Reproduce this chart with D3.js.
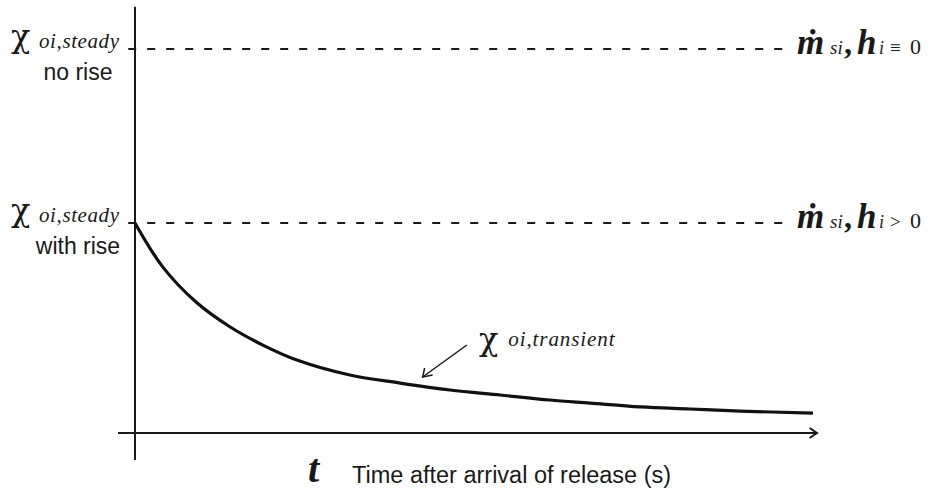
<!DOCTYPE html>
<html>
<head>
<meta charset="utf-8">
<script src="https://cdnjs.cloudflare.com/ajax/libs/d3/7.8.5/d3.min.js"></script>
<style>
  body { margin: 0; background: #fff; }
  svg { display: block; }
</style>
</head>
<body>
<div id="chart"></div>
<script>
// time after arrival (arbitrary units, 0..100) and transient concentration (fraction of no-rise steady)
var timeValues = [0, 4.1, 9.1, 14.0, 18.8, 23.8, 31.6, 39.0, 46.3, 53.7, 61.0, 66.9, 74.3, 81.6, 89.0, 99.7];
var transientValues = [0.547, 0.432, 0.339, 0.276, 0.229, 0.190, 0.151, 0.130, 0.112, 0.099, 0.086, 0.078, 0.068, 0.0625, 0.057, 0.052];

// steady levels: no rise, with rise
var steadyLevels = [1.0, 0.547];
var steadyNotes = ['no rise', 'with rise'];
var steadyRelations = ['\u2261', '>'];

var xLabel = 'Time after arrival of release (s)';

var attrs = {
    svgWidth: 930,
    svgHeight: 492,
    serif: '"Liberation Serif", "Times New Roman", serif',
    greek: '"DejaVu Serif", "Liberation Serif", serif',
    sans: '"Liberation Sans", Arial, sans-serif'
};

var svg = d3.select('#chart')
    .append('svg')
    .attr('width', attrs.svgWidth)
    .attr('height', attrs.svgHeight);

var x = d3.scaleLinear().domain([0, 100]).range([135, 815]);
var y = d3.scaleLinear().domain([0, 1]).range([433, 49]);

var ink = '#1a1a1a';

// axes
svg.append('line')
    .attr('x1', x(0)).attr('x2', x(0))
    .attr('y1', y(-0.07)).attr('y2', y(1.11))
    .attr('stroke', ink).attr('stroke-width', 2);

svg.append('line')
    .attr('x1', x(-2.5)).attr('x2', x(100.3))
    .attr('y1', y(0)).attr('y2', y(0))
    .attr('stroke', ink).attr('stroke-width', 2);

// open arrow head on time axis
svg.append('path')
    .attr('d', d3.line()([[x(99.2), y(0) - 5], [x(100.3), y(0)], [x(99.2), y(0) + 5]]))
    .attr('fill', 'none')
    .attr('stroke', ink).attr('stroke-width', 2);

// steady dashed levels
svg.selectAll('.steady')
    .data(steadyLevels)
    .enter()
    .append('line')
    .attr('class', 'steady')
    .attr('x1', x(-1)).attr('x2', x(96.5))
    .attr('y1', function (d) { return y(d); })
    .attr('y2', function (d) { return y(d); })
    .attr('stroke', ink)
    .attr('stroke-width', 2)
    .attr('stroke-dasharray', '8,11');

// transient curve
var pts = timeValues.map(function (t, i) { return [t, transientValues[i]]; });
var line = d3.line()
    .x(function (d) { return x(d[0]); })
    .y(function (d) { return y(d[1]); })
    .curve(d3.curveCatmullRom.alpha(0.5));

svg.append('path')
    .datum(pts)
    .attr('d', line)
    .attr('fill', 'none')
    .attr('stroke', '#111')
    .attr('stroke-width', 3.2);

// left labels
steadyLevels.forEach(function (lv, i) {
    var yy = y(lv);
    svg.append('text')
        .attr('x', 11).attr('y', yy - 2)
        .attr('font-family', attrs.greek)
        .attr('font-size', 32)
        .attr('fill', ink)
        .text('\u03c7');
    svg.append('text')
        .attr('x', 39).attr('y', yy - 1)
        .attr('font-family', attrs.serif)
        .attr('font-style', 'italic')
        .attr('font-size', 21)
        .attr('letter-spacing', 0.6)
        .attr('fill', ink)
        .text('oi,steady');
    svg.append('text')
        .attr('x', 78).attr('y', yy + 31)
        .attr('text-anchor', 'middle')
        .attr('font-family', attrs.sans)
        .attr('font-size', 23)
        .attr('fill', ink)
        .text(steadyNotes[i]);

    // right labels
    var g = svg.append('text')
        .attr('y', yy + 5)
        .attr('font-family', attrs.serif)
        .attr('fill', ink);
    g.append('tspan').attr('x', 797).attr('font-size', 35).attr('font-style', 'italic').attr('font-weight', 'bold').text('\u1e41');
    g.append('tspan').attr('x', 830).attr('font-size', 19).attr('font-style', 'italic').text('si');
    g.append('tspan').attr('x', 844).attr('font-size', 32).attr('font-weight', 'bold').text(',');
    g.append('tspan').attr('x', 857).attr('font-size', 35).attr('font-style', 'italic').attr('font-weight', 'bold').text('h');
    g.append('tspan').attr('x', 879).attr('font-size', 18).attr('font-style', 'italic').text('i');
    g.append('tspan').attr('x', 890).attr('font-size', 19).text(steadyRelations[i]);
    g.append('tspan').attr('x', 910).attr('font-size', 22).text('0');
});

// transient label with pointer
svg.append('text')
    .attr('x', x(50.6)).attr('y', 350)
    .attr('font-family', attrs.greek)
    .attr('font-size', 32)
    .attr('fill', ink)
    .text('\u03c7');
svg.append('text')
    .attr('x', x(54.9)).attr('y', 346)
    .attr('font-family', attrs.serif)
    .attr('font-style', 'italic')
    .attr('font-size', 21)
    .attr('letter-spacing', 0.9)
    .attr('fill', ink)
    .text('oi,transient');

var ax0 = [x(48.8), 345], ax1 = [x(42.3), 377];
svg.append('line')
    .attr('x1', ax0[0]).attr('y1', ax0[1])
    .attr('x2', ax1[0]).attr('y2', ax1[1])
    .attr('stroke', ink).attr('stroke-width', 1.5);
svg.append('path')
    .attr('d', d3.line()([[ax1[0] + 2, ax1[1] - 9], ax1, [ax1[0] + 10, ax1[1] - 2]]))
    .attr('fill', 'none').attr('stroke', ink).attr('stroke-width', 1.5);

// x label
svg.append('text')
    .attr('x', 308).attr('y', 482)
    .attr('font-family', attrs.serif)
    .attr('font-style', 'italic')
    .attr('font-weight', 'bold')
    .attr('font-size', 40)
    .attr('fill', ink)
    .text('t');
svg.append('text')
    .attr('x', 352).attr('y', 483)
    .attr('font-family', attrs.sans)
    .attr('font-size', 23.5)
    .attr('fill', ink)
    .text(xLabel);
</script>
</body>
</html>
